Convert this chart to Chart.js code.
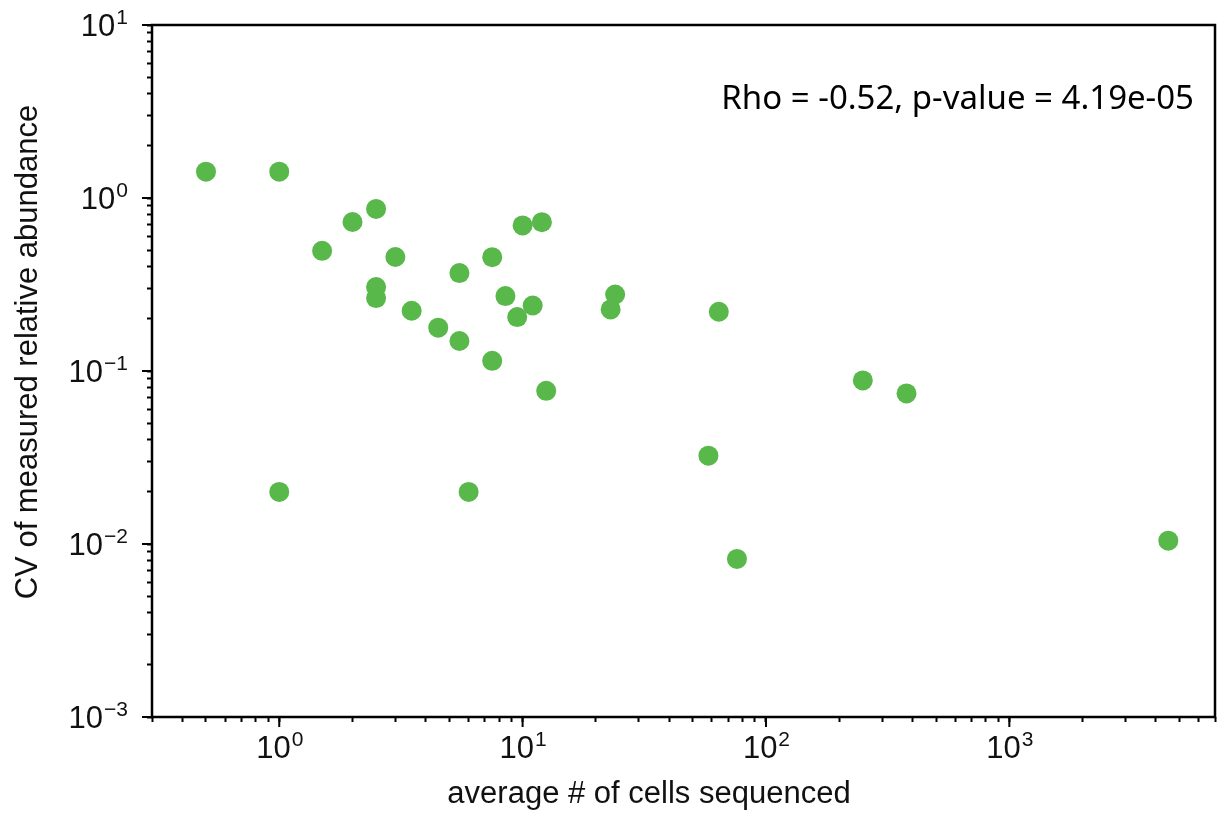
<!DOCTYPE html>
<html>
<head>
<meta charset="utf-8">
<title>CV vs average # of cells sequenced</title>
<script src="https://cdn.jsdelivr.net/npm/chart.js@4.4.1/dist/chart.umd.min.js"></script>
<style>
  html, body { margin: 0; padding: 0; background: #fff; }
  #wrap { width: 1225px; height: 816px; }
</style>
</head>
<body>
<div id="wrap"><canvas id="cvChart"></canvas></div>
<script>
// Dati (assi logaritmici)
const avgCells = [0.5, 1, 1.5, 2, 2.5, 3, 2.5, 2.5, 3.5, 4.5, 5.5, 5.5, 7.5, 10, 12, 8.5, 11, 9.5, 7.5, 12.5, 24, 23, 6, 1, 64, 250, 378, 58, 76, 4500];
const cvAbundance = [1.42, 1.42, 0.495, 0.727, 0.865, 0.456, 0.306, 0.264, 0.223, 0.178, 0.149, 0.368, 0.455, 0.694, 0.725, 0.271, 0.239, 0.205, 0.1145, 0.0768, 0.277, 0.227, 0.02, 0.02, 0.22, 0.0882, 0.0742, 0.0324, 0.0082, 0.01045];

const xRange = [0.31, 7000];
const yRange = [0.001, 10];
const xExponents = [0, 1, 2, 3];
const yExponents = [-3, -2, -1, 0, 1];

const statsText = 'Rho = -0.52, p-value = 4.19e-05';
const xTitle = 'average # of cells sequenced';
const yTitle = 'CV of measured relative abundance';

const pointColor = '#58b84a';
const axisFont = '"Liberation Sans", Arial, sans-serif';

/**
 * Tick log "stile matplotlib": 1..9 x 10^n dentro l'intervallo
 */
function logTicks(min, max) {
    const out = [];
    for (let e = Math.floor(Math.log10(min)); e <= Math.ceil(Math.log10(max)); e++) {
        for (let k = 1; k <= 9; k++) {
            const v = k * Math.pow(10, e);
            if (v >= min * 0.999 && v <= max * 1.001) out.push({ value: v });
        }
    }
    return out;
}

function expLabel(e) {
    return e < 0 ? '\u2212' + Math.abs(e) : String(e);
}

// Disegna cornice, tick maggiori, etichette con esponente e testi
const decorPlugin = {
    id: 'decor',
    afterDraw(chart) {
        const ctx = chart.ctx;
        const area = chart.chartArea;
        const xs = chart.scales.x;
        const ys = chart.scales.y;
        ctx.save();

        // cornice
        ctx.strokeStyle = '#000';
        ctx.lineWidth = 2.5;
        ctx.strokeRect(area.left, area.top, area.right - area.left, area.bottom - area.top);

        // tick maggiori più lunghi
        ctx.lineWidth = 2;
        ctx.beginPath();
        xExponents.forEach(e => {
            const px = xs.getPixelForValue(Math.pow(10, e));
            ctx.moveTo(px, area.bottom);
            ctx.lineTo(px, area.bottom + 10);
        });
        yExponents.forEach(e => {
            const py = ys.getPixelForValue(Math.pow(10, e));
            ctx.moveTo(area.left, py);
            ctx.lineTo(area.left - 10, py);
        });
        ctx.stroke();

        // etichette 10^n
        ctx.fillStyle = '#111';
        ctx.textBaseline = 'alphabetic';
        ctx.textAlign = 'left';
        const bigFont = '31px ' + axisFont;
        const supFont = '21px ' + axisFont;

        xExponents.forEach(e => {
            const px = xs.getPixelForValue(Math.pow(10, e));
            ctx.font = bigFont;
            const wBase = ctx.measureText('10').width;
            ctx.font = supFont;
            const wExp = ctx.measureText(expLabel(e)).width;
            const x0 = px - (wBase + wExp) / 2;
            const base = area.bottom + 41;
            ctx.font = bigFont;
            ctx.fillText('10', x0, base);
            ctx.font = supFont;
            ctx.fillText(expLabel(e), x0 + wBase + 1, base - 12);
        });

        yExponents.forEach(e => {
            const py = ys.getPixelForValue(Math.pow(10, e));
            ctx.font = bigFont;
            const wBase = ctx.measureText('10').width;
            ctx.font = supFont;
            const wExp = ctx.measureText(expLabel(e)).width;
            const right = area.left - 24;
            const x0 = right - wExp - wBase - 1;
            const base = py + 11;
            ctx.font = bigFont;
            ctx.fillText('10', x0, base);
            ctx.font = supFont;
            ctx.fillText(expLabel(e), x0 + wBase + 1, base - 12);
        });

        // titoli degli assi
        ctx.font = '31px ' + axisFont;
        ctx.textAlign = 'center';
        ctx.fillText(xTitle, 649, 803);

        ctx.save();
        ctx.translate(37, 352);
        ctx.rotate(-Math.PI / 2);
        ctx.fillText(yTitle, 0, 0);
        ctx.restore();

        // annotazione statistica
        ctx.font = '33px "Noto Sans", "Open Sans", sans-serif';
        ctx.textAlign = 'right';
        ctx.fillStyle = '#000';
        ctx.fillText(statsText, 1194, 109);

        ctx.restore();
    }
};

function initScatterChart() {
    const ctx = document.getElementById('cvChart');
    if (!ctx) {
        console.error('Canvas #cvChart non trovato.');
        return;
    }

    const points = avgCells.map((x, i) => ({ x: x, y: cvAbundance[i] }));

    const hiddenAxisTicks = {
        display: false
    };

    new Chart(ctx, {
        type: 'scatter',
        data: {
            datasets: [{
                label: 'CV',
                data: points,
                backgroundColor: pointColor,
                borderColor: pointColor,
                borderWidth: 0,
                pointRadius: 10,
                pointHoverRadius: 10
            }]
        },
        options: {
            responsive: true,
            maintainAspectRatio: false,
            animation: false,
            layout: {
                padding: { top: 25, right: 8, left: 0, bottom: 0 }
            },
            plugins: {
                legend: { display: false },
                tooltip: { enabled: false }
            },
            scales: {
                x: {
                    type: 'logarithmic',
                    min: xRange[0],
                    max: xRange[1],
                    afterBuildTicks: scale => { scale.ticks = logTicks(scale.min, scale.max); },
                    afterFit: scale => { scale.height = 99; },
                    border: { display: false },
                    grid: {
                        drawOnChartArea: false,
                        drawTicks: true,
                        tickLength: 5,
                        tickWidth: 2,
                        tickColor: '#000'
                    },
                    ticks: hiddenAxisTicks
                },
                y: {
                    type: 'logarithmic',
                    min: yRange[0],
                    max: yRange[1],
                    afterBuildTicks: scale => { scale.ticks = logTicks(scale.min, scale.max); },
                    afterFit: scale => { scale.width = 152; },
                    border: { display: false },
                    grid: {
                        drawOnChartArea: false,
                        drawTicks: true,
                        tickLength: 5,
                        tickWidth: 2,
                        tickColor: '#000'
                    },
                    ticks: hiddenAxisTicks
                }
            }
        },
        plugins: [decorPlugin]
    });
}

document.addEventListener('DOMContentLoaded', initScatterChart);
</script>
</body>
</html>
